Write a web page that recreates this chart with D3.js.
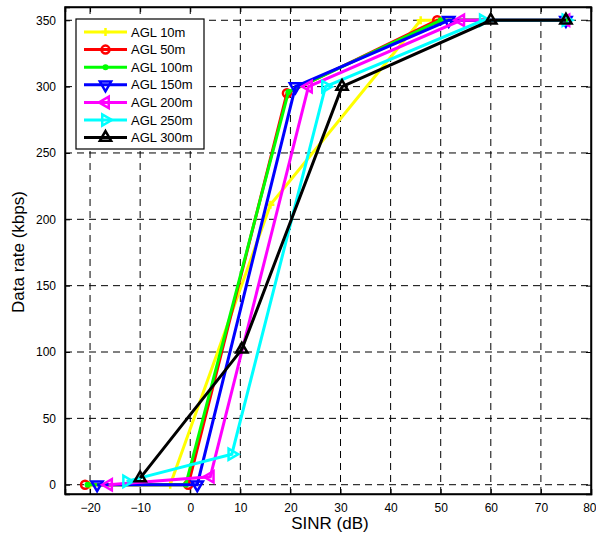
<!DOCTYPE html>
<html><head><meta charset="utf-8">
<script src="https://cdn.jsdelivr.net/npm/d3@7"></script>
<style>body{margin:0;background:#fff}svg{display:block;font-family:"Liberation Sans",Arial,sans-serif}</style>
</head><body><svg id="c" width="596" height="535"></svg>
<script>
const xTicks = [-20,-10,0,10,20,30,40,50,60,70,80];
const yTicks = [0,50,100,150,200,250,300,350];
const seriesNames = ["AGL 10m","AGL 50m","AGL 100m","AGL 150m","AGL 200m","AGL 250m","AGL 300m"];
const seriesColors = ["#ffff00","#ff0000","#00ff00","#0000ff","#ff00ff","#00ffff","#000000"];
const seriesMarkers = ["plus","circle","dot","down","left","right","up"];
const agl10 = [[-20,0],[-4,0],[16,211],[46,350],[75,350]];
const agl50 = [[-21,0],[-0.4,0],[19.3,295],[49.3,350],[75,350]];
const agl100 = [[-20.5,0],[-0.9,0],[19.6,296],[50,350],[75,350]];
const agl150 = [[-18.6,0],[1.4,0],[21,300],[51.6,350],[75,350]];
const agl200 = [[-16.3,0],[4,6],[23.6,300],[54,350],[75,350]];
const agl250 = [[-12.7,2.5],[8.3,23],[27,300],[58.5,350],[75,350]];
const agl300 = [[-10,5],[10.3,102],[30.3,300],[60,350],[75,350]];
const allSeries = [agl10,agl50,agl100,agl150,agl200,agl250,agl300];

const svg = d3.select("#c");
const x = d3.scaleLinear().domain([-25,80]).range([65,591]);
const y = d3.scaleLinear().domain([-7,360]).range([494,7]);
const L = 65, R = 591, T = 7, B = 494;

// grid
const g = svg.append("g");
g.selectAll(".vg").data(xTicks.filter(v=>v<80)).enter().append("line")
 .attr("x1",d=>x(d)).attr("x2",d=>x(d)).attr("y1",T).attr("y2",B)
 .attr("stroke","#000").attr("stroke-width",1).attr("stroke-dasharray","7,5");
g.selectAll(".hg").data(yTicks).enter().append("line")
 .attr("y1",d=>y(d)).attr("y2",d=>y(d)).attr("x1",L).attr("x2",R)
 .attr("stroke","#000").attr("stroke-width",1).attr("stroke-dasharray","7,5");

// axes
const fs = "12px";
const xa = svg.append("g").attr("transform",`translate(0,${B})`)
 .call(d3.axisBottom(x).tickValues(xTicks).tickSize(-5).tickPadding(9));
const xt = svg.append("g").attr("transform",`translate(0,${T})`)
 .call(d3.axisTop(x).tickValues(xTicks).tickSize(-5).tickFormat(""));
const ya = svg.append("g").attr("transform",`translate(${L},0)`)
 .call(d3.axisLeft(y).tickValues(yTicks).tickSize(-5).tickPadding(9));
const yr = svg.append("g").attr("transform",`translate(${R},0)`)
 .call(d3.axisRight(y).tickValues(yTicks).tickSize(-5).tickFormat(""));
[xa,xt,ya,yr].forEach(a=>{
  a.select(".domain").attr("stroke","#000").attr("stroke-width",1.5);
  a.selectAll(".tick line").attr("stroke","#000");
  a.selectAll("text").attr("font-size",fs).attr("fill","#000").attr("font-family","Liberation Sans, Arial, sans-serif");
});
xa.selectAll(".tick").filter(d=>d===80).select("text").attr("text-anchor","end").attr("dx","5");

// lines
const line = d3.line().x(d=>x(d[0])).y(d=>y(d[1]));
function marker(sel, type, color, px, py){
  if(type==="plus"){
    sel.append("path").attr("d",`M${px-4},${py}H${px+4}M${px},${py-4}V${py+4}`)
      .attr("stroke",color).attr("stroke-width",2.5).attr("fill","none");
  } else if(type==="circle"){
    sel.append("circle").attr("cx",px).attr("cy",py).attr("r",4)
      .attr("stroke",color).attr("stroke-width",2.5).attr("fill","none");
  } else if(type==="dot"){
    sel.append("circle").attr("cx",px).attr("cy",py).attr("r",3).attr("fill",color);
  } else {
    const rot = {up:0,down:180,left:-90,right:90}[type];
    sel.append("path").attr("d",d3.symbol().type(d3.symbolTriangle).size(55)())
      .attr("transform",`translate(${px},${py}) rotate(${rot})`)
      .attr("stroke",color).attr("stroke-width",2.5).attr("fill","none").attr("stroke-linejoin","miter");
  }
}
allSeries.forEach((s,i)=>{
  const gs = svg.append("g");
  gs.append("path").datum(s).attr("d",line).attr("fill","none")
    .attr("stroke",seriesColors[i]).attr("stroke-width",3);
  s.forEach(p=>marker(gs, seriesMarkers[i], seriesColors[i], x(p[0]), y(p[1])));
});

// frame
svg.append("rect").attr("x",L).attr("y",T).attr("width",R-L).attr("height",B-T)
 .attr("fill","none").attr("stroke","#000").attr("stroke-width",1.5);

// legend
const lg = svg.append("g");
lg.append("rect").attr("x",76).attr("y",19).attr("width",128).attr("height",130)
 .attr("fill","#fff").attr("stroke","#000").attr("stroke-width",1.2);
seriesNames.forEach((n,i)=>{
  const yy = 32 + i*17.6;
  lg.append("line").attr("x1",84).attr("x2",127).attr("y1",yy).attr("y2",yy)
    .attr("stroke",seriesColors[i]).attr("stroke-width",3);
  marker(lg, seriesMarkers[i], seriesColors[i], 105.5, yy);
  lg.append("text").attr("x",131).attr("y",yy+4.5).attr("font-size","13px").attr("fill","#000").text(n);
});

// titles
svg.append("text").attr("x",330).attr("y",529).attr("text-anchor","middle")
 .attr("font-size","17px").attr("fill","#000").text("SINR (dB)");
svg.append("text").attr("transform","translate(24,252) rotate(-90)").attr("text-anchor","middle")
 .attr("font-size","17px").attr("fill","#000").text("Data rate (kbps)");
</script></body></html>
